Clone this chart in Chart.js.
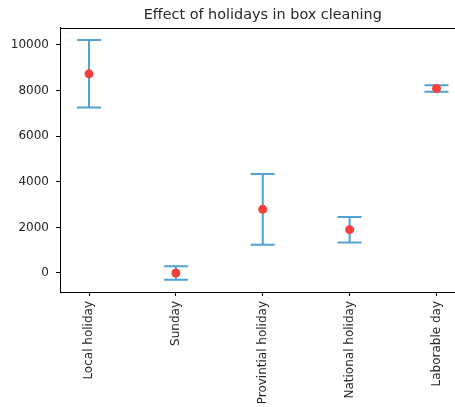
<!DOCTYPE html>
<html>
<head>
<meta charset="utf-8">
<script src="https://cdn.jsdelivr.net/npm/chart.js@4/dist/chart.umd.min.js"></script>
<style>
  html, body { margin: 0; padding: 0; background: #fff; overflow: hidden; }
  #wrap { width: 470px; height: 407px; }
</style>
</head>
<body>
<div id="wrap"><canvas id="c" width="470" height="407"></canvas></div>
<script>
// Daily box-cleaning counts per kind of day: mean and spread
const categories = ['Local holiday', 'Sunday', 'Provintial holiday', 'National holiday', 'Laborable day'];
const means = [8730, 0, 2790, 1900, 8090];
const errors = [1480, 300, 1550, 560, 140];
const yTicks = [0, 2000, 4000, 6000, 8000, 10000];

const barColor = '#4ea3d3';
const dotColor = '#f2413a';
const textColor = '#262626';
const font = { family: 'DejaVu Sans', size: 12 };

// Draws the vertical whiskers and caps for each point
const errorBars = {
  id: 'errorBars',
  beforeDatasetsDraw(chart) {
    const { ctx, scales: { x, y } } = chart;
    ctx.save();
    ctx.strokeStyle = barColor;
    ctx.lineWidth = 2;
    means.forEach((m, i) => {
      const px = x.getPixelForValue(i);
      const top = y.getPixelForValue(m + errors[i]);
      const bot = y.getPixelForValue(m - errors[i]);
      ctx.beginPath();
      ctx.moveTo(px, top); ctx.lineTo(px, bot);
      ctx.moveTo(px - 12, top); ctx.lineTo(px + 12, top);
      ctx.moveTo(px - 12, bot); ctx.lineTo(px + 12, bot);
      ctx.stroke();
    });
    ctx.restore();
  }
};

// Top and right frame lines around the plot area
const frame = {
  id: 'frame',
  afterDraw(chart) {
    const { ctx, chartArea: a } = chart;
    ctx.save();
    ctx.strokeStyle = '#000';
    ctx.lineWidth = 1;
    ctx.beginPath();
    ctx.moveTo(a.left, a.top + 0.5); ctx.lineTo(a.right, a.top + 0.5);
    ctx.moveTo(a.right - 0.5, a.top); ctx.lineTo(a.right - 0.5, a.bottom);
    ctx.stroke();
    ctx.restore();
  }
};

new Chart(document.getElementById('c'), {
  type: 'scatter',
  data: {
    datasets: [{
      data: means.map((m, i) => ({ x: i, y: m })),
      backgroundColor: dotColor,
      borderWidth: 0,
      pointRadius: 4.5,
      pointHoverRadius: 4.5
    }]
  },
  options: {
    responsive: false,
    animation: false,
    events: [],
    layout: { padding: { left: 0, right: 4, top: 0, bottom: 0 } },
    plugins: {
      legend: { display: false },
      tooltip: { enabled: false },
      title: {
        display: true,
        text: 'Effect of holidays in box cleaning',
        fullSize: false,
        color: textColor,
        font: { family: 'DejaVu Sans', size: 14.4, weight: 'normal' },
        padding: { top: 7, bottom: 3.7 }
      }
    },
    scales: {
      x: {
        type: 'linear',
        min: -0.334,
        max: 4.334,
        afterBuildTicks(s) { s.ticks = categories.map((_, i) => ({ value: i })); },
        afterFit(s) { s.height = 115; },
        border: { display: true, color: '#000', width: 1 },
        grid: { display: true, drawOnChartArea: false, drawTicks: true, tickLength: 4, color: '#000' },
        ticks: {
          autoSkip: false,
          maxRotation: 90,
          minRotation: 90,
          padding: 5,
          color: textColor,
          font,
          callback: v => categories[v]
        }
      },
      y: {
        min: -833,
        max: 10741,
        afterBuildTicks(s) { s.ticks = yTicks.map(v => ({ value: v })); },
        afterFit(s) { s.width = 60; },
        border: { display: true, color: '#000', width: 1 },
        grid: { display: true, drawOnChartArea: false, drawTicks: true, tickLength: 4, color: '#000' },
        ticks: {
          padding: 7,
          color: textColor,
          font,
          callback: v => String(v)
        }
      }
    }
  },
  plugins: [errorBars, frame]
});
</script>
</body>
</html>
